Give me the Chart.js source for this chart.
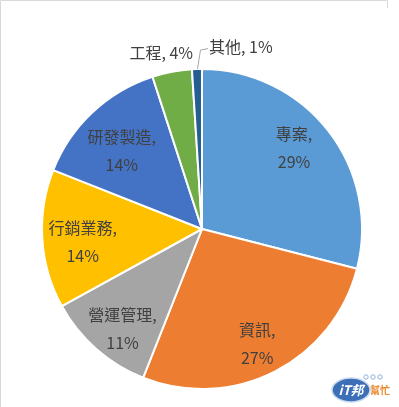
<!DOCTYPE html>
<html><head><meta charset="utf-8">
<script src="https://cdn.jsdelivr.net/npm/chart.js@4/dist/chart.umd.min.js"></script>
<style>html,body{margin:0;padding:0;background:#fff;}canvas{display:block}</style>
</head><body>
<canvas id="c" width="399" height="407"></canvas>
<script>
const categories = ['專案', '資訊', '營運管理', '行銷業務', '研發製造', '工程', '其他'];
const values = [29, 27, 11, 14, 14, 4, 1];
const sliceColors = ['#5B9BD5', '#ED7D31', '#A5A5A5', '#FFC000', '#4472C4', '#70AD47', '#255E91'];

const FONT = '"Noto Sans CJK TC", "Noto Sans", sans-serif';
const total = values.reduce((a, b) => a + b, 0);
const pct = v => Math.round(v / total * 100) + '%';
// label placement tweaks (pixels), keyed by slice index
const labelNudge = { 0: [-4, -7], 1: [0, 7], 2: [1, 9], 3: [2, 5], 4: [3, 11] };

const labelPlugin = {
  id: 'excelLabels',
  afterDatasetsDraw(chart) {
    const ctx = chart.ctx;
    const meta = chart.getDatasetMeta(0);
    ctx.save();
    ctx.fillStyle = '#404040';
    ctx.font = '16px ' + FONT;
    ctx.textBaseline = 'middle';
    meta.data.forEach((arc, i) => {
      const p = arc.getProps(['x', 'y', 'startAngle', 'endAngle', 'outerRadius'], true);
      const mid = (p.startAngle + p.endAngle) / 2;
      const share = values[i] / total;
      if (share >= 0.08) {
        const r = p.outerRadius * 0.76;
        const n = labelNudge[i] || [0, 0];
        const lx = p.x + r * Math.cos(mid) + n[0];
        const ly = p.y + r * Math.sin(mid) + n[1];
        ctx.textAlign = 'center';
        ctx.fillText(categories[i] + ',', lx, ly - 14);
        ctx.fillText(pct(values[i]), lx, ly + 14);
      } else if (share >= 0.02) {
        const r = p.outerRadius * 1.125;
        const lx = p.x + r * Math.cos(mid);
        const ly = p.y + r * Math.sin(mid);
        ctx.textAlign = 'center';
        ctx.fillText(categories[i] + ', ' + pct(values[i]), lx - 7, ly + 1);
      } else {
        const ax = p.x + p.outerRadius * Math.cos(mid);
        const ay = p.y + p.outerRadius * Math.sin(mid);
        const ex = ax + 3, ey = ay - 19;
        ctx.strokeStyle = '#a6a6a6';
        ctx.lineWidth = 1;
        ctx.beginPath();
        ctx.moveTo(ax + 0.5, ay);
        ctx.lineTo(ex + 0.5, ey);
        ctx.lineTo(ex + 8, ey - 1.5);
        ctx.stroke();
        ctx.textAlign = 'left';
        ctx.fillText(categories[i] + ', ' + pct(values[i]), ex + 9, ey - 3);
      }
    });
    ctx.restore();
  },
  afterDraw(chart) {
    const ctx = chart.ctx;
    ctx.save();
    ctx.strokeStyle = '#d9d9d9';
    ctx.lineWidth = 1;
    ctx.beginPath();
    ctx.moveTo(0.5, 407); ctx.lineTo(0.5, 0.5); ctx.lineTo(387.5, 0.5); ctx.lineTo(387.5, 8);
    ctx.stroke();
    ctx.beginPath();
    ctx.ellipse(351, 390, 19, 12, 0, 0, Math.PI * 2);
    ctx.fillStyle = '#3d6fb6';
    ctx.fill();
    ctx.strokeStyle = '#c9d9ee';
    ctx.lineWidth = 1.5;
    ctx.stroke();
    ctx.fillStyle = '#ffffff';
    ctx.font = 'italic bold 13px ' + FONT;
    ctx.textAlign = 'center';
    ctx.textBaseline = 'middle';
    ctx.fillText('iT邦', 351, 390);
    ctx.fillStyle = '#e98a2e';
    ctx.font = 'bold 10px ' + FONT;
    ctx.fillText('幫忙', 380, 390);
    ctx.strokeStyle = '#8fb0dc';
    ctx.lineWidth = 1;
    [366, 373, 380].forEach(x => {
      ctx.beginPath(); ctx.arc(x, 377, 2.2, 0, Math.PI * 2); ctx.stroke();
    });
    ctx.restore();
  }
};

new Chart(document.getElementById('c'), {
  type: 'pie',
  data: {
    labels: categories,
    datasets: [{
      data: values,
      backgroundColor: sliceColors,
      borderColor: '#ffffff',
      borderWidth: 2
    }]
  },
  options: {
    responsive: false,
    animation: false,
    layout: { padding: { top: 68, bottom: 17, left: 41, right: 36 } },
    plugins: { legend: { display: false }, tooltip: { enabled: false } }
  },
  plugins: [labelPlugin]
});
</script>
</body></html>
